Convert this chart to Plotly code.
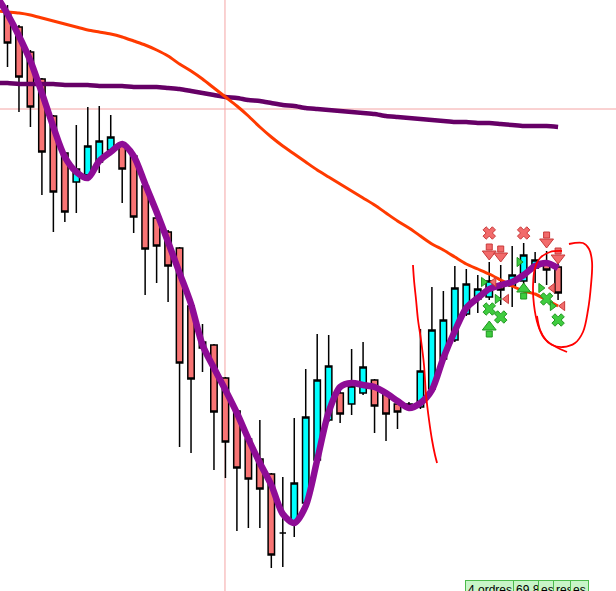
import plotly.graph_objects as go

# ---- data (price units; one candle per index) ------------------------------

candle_idx = list(range(-1, 49))
opens = [615, 588, 573, 548, 521, 484, 447, 418, 425, 438, 450, 457, 444, 414, 382, 368, 352, 294, 258, 255, 222,
         189, 161, 141, 126, 67, 77, 97, 140, 180, 207, 196, 207, 220, 207, 196, 193, 193, 211, 241, 260, 286,
         301, 303, 314, 314, 319, 332, 335, 333]
closes = [577, 557, 523, 493, 448, 408, 388, 431, 454, 459, 463, 431, 383, 351, 354, 334, 237, 221, 252, 188, 158,
          132, 121, 111, 45, 67, 117, 183, 220, 234, 186, 214, 233, 194, 186, 188, 196, 229, 270, 280, 312, 316,
          311, 319, 310, 325, 345, 340, 330, 307]
highs = [620, 595, 575, 550, 522, 485, 448, 475, 493, 494, 485, 458, 445, 415, 383, 370, 353, 295, 276, 256, 223,
         190, 162, 180, 127, 123, 182, 231, 266, 265, 212, 251, 258, 221, 208, 197, 198, 271, 313, 309, 334, 331,
         325, 338, 335, 354, 357, 348, 349, 338]
lows = [576, 533, 488, 473, 405, 368, 378, 387, 422, 427, 448, 397, 367, 305, 317, 298, 153, 147, 228, 130, 122,
        69, 72, 72, 32, 33, 63, 95, 138, 178, 177, 185, 205, 167, 159, 171, 191, 191, 209, 239, 258, 284, 287, 300,
        295, 293, 313, 317, 315, 300]

ma_fast = [605, 586, 564, 539, 507, 473, 443, 428, 422, 439, 448, 456, 444, 416, 388, 358, 327, 296, 255, 232,
           210, 187, 161, 137, 115, 86, 77, 94, 140, 188, 213, 217, 215, 213, 207, 199, 192, 197, 210, 242, 269,
           292, 302, 311, 315, 318, 325, 334, 337, 332]
ma_slow = [589, 588, 587, 585, 582, 579, 576, 573, 570, 568, 566, 563, 559, 555, 550, 544, 536, 529, 521, 512, 503,
           494, 484, 473, 463, 454, 446, 438, 430, 423, 416, 409, 402, 395, 387, 379, 372, 364, 356, 350, 343, 336,
           331, 326, 320, 314, 309, 306, 300, 294]
ma_long = [517, 517, 516, 516, 516, 516, 515, 515, 515, 514, 514, 514, 513, 513, 513, 512, 511, 509, 507, 505, 503,
           502, 500, 499, 497, 495, 494, 492, 491, 490, 489, 488, 487, 486, 484, 483, 482, 481, 480, 479, 478, 478,
           477, 477, 476, 475, 474, 474, 474, 473]

# trade signals (x = candle index, y = price)
sell_x_x, sell_x_y = [42, 45], [367, 367]
sell_arrow_x, sell_arrow_y = [42, 43, 47, 48], [349, 347, 361, 345]
sell_tri_x, sell_tri_y = [42.4, 43.5, 47.5, 48.4], [318, 301, 312, 294]
buy_tri_x, buy_tri_y = [41.5, 42.7, 44.6, 46.5, 47.5], [318, 301, 338, 312, 294]
buy_x_x, buy_x_y = [42, 43, 47, 48], [291, 283, 301, 280]
buy_arrow_x, buy_arrow_y = [42, 45], [270, 308]

# hand-drawn strokes
stroke1_x = [35.35, 35.44, 35.62, 35.79, 36.05, 36.31, 36.49, 36.75, 37.01, 37.27, 37.45]
stroke1_y = [335, 320, 300, 280, 260, 235, 205, 180, 160, 145, 137]
stroke2_x = [48.95, 50.17, 50.70, 50.96, 50.87, 50.61, 50.17, 49.48, 48.43, 47.47, 46.77, 46.25, 45.90, 45.82,
             45.99, 46.43, 47.30, 48.34]
stroke2_y = [356, 357, 351, 338, 315, 290, 268, 257, 253, 255, 262, 275, 295, 315, 332, 342, 348, 349]
stroke3_x = [46.16, 46.43, 46.95, 47.83, 48.78]
stroke3_y = [284, 270, 260, 253, 248]

cross_x, cross_y = 18.96, 491

tags = ["4 ordres", "69.8", "es", "res", "es"]
tag_left = [465, 513, 538, 553, 570]

W, H = 616, 591
X_RANGE = [-0.654, 53.05]
Y_RANGE = [9, 600]

RED = "#f26b6b"
RED_EDGE = "#c83a3a"
GREEN = "#3fcc3f"
GREEN_EDGE = "#1f961f"

fig = go.Figure()

fig.add_trace(go.Candlestick(
    x=candle_idx, open=opens, high=highs, low=lows, close=closes,
    increasing=dict(fillcolor="#00ffff", line=dict(color="black", width=1.5)),
    decreasing=dict(fillcolor="#f87474", line=dict(color="black", width=1.5)),
    hoverinfo="skip",
))

fig.add_trace(go.Scatter(x=candle_idx, y=ma_long, mode="lines",
                         line=dict(color="#660066", width=4.5, shape="spline", smoothing=0.6)))
fig.add_trace(go.Scatter(x=candle_idx, y=ma_slow, mode="lines",
                         line=dict(color="#ff3a00", width=3, shape="spline", smoothing=0.6)))
fig.add_trace(go.Scatter(x=candle_idx, y=ma_fast, mode="lines",
                         line=dict(color="#8e0c96", width=6.5, shape="spline", smoothing=0.8)))


def marks(x, y, symbol, size, fill, edge):
    fig.add_trace(go.Scatter(x=x, y=y, mode="markers",
                             marker=dict(symbol=symbol, size=size, color=fill,
                                         line=dict(color=edge, width=1))))


# block arrows = square shaft + triangle head
marks(sell_arrow_x, [v + 4 for v in sell_arrow_y], "square", 6, RED, RED_EDGE)
marks(sell_arrow_x, [v - 3 for v in sell_arrow_y], "triangle-down", 12, RED, RED_EDGE)
marks(buy_arrow_x, [v - 4 for v in buy_arrow_y], "square", 6, GREEN, GREEN_EDGE)
marks(buy_arrow_x, [v + 3 for v in buy_arrow_y], "triangle-up", 12, GREEN, GREEN_EDGE)
marks(sell_x_x, sell_x_y, "x", 11, RED, RED_EDGE)
marks(buy_x_x, buy_x_y, "x", 11, GREEN, GREEN_EDGE)
marks(sell_tri_x, sell_tri_y, "triangle-left", 8, RED, RED_EDGE)
marks(buy_tri_x, buy_tri_y, "triangle-right", 8, GREEN, GREEN_EDGE)

for sx, sy in [(stroke1_x, stroke1_y), (stroke2_x, stroke2_y), (stroke3_x, stroke3_y)]:
    fig.add_trace(go.Scatter(x=sx, y=sy, mode="lines",
                             line=dict(color="#ff0000", width=1.8, shape="spline", smoothing=1)))

# crosshair
fig.add_shape(type="line", x0=cross_x, x1=cross_x, y0=Y_RANGE[0], y1=Y_RANGE[1],
              line=dict(color="#f4a4a4", width=1), layer="below")
fig.add_shape(type="line", x0=X_RANGE[0], x1=X_RANGE[1], y0=cross_y, y1=cross_y,
              line=dict(color="#f4a4a4", width=1), layer="below")

# order tags at the bottom
for txt, left in zip(tags, tag_left):
    fig.add_annotation(
        text=txt, xref="paper", yref="paper", x=left / W, y=1 - 580 / H,
        xanchor="left", yanchor="top", showarrow=False,
        font=dict(family="Arial, Liberation Sans", size=12, color="black"),
        bgcolor="#c8f5c8", bordercolor="#4cbb4c", borderwidth=1, borderpad=2,
    )

fig.update_layout(
    width=W, height=H,
    margin=dict(l=0, r=0, t=0, b=0),
    paper_bgcolor="white", plot_bgcolor="white",
    showlegend=False,
    hovermode=False,
    boxgap=0.2,
    xaxis=dict(range=X_RANGE, showgrid=False, zeroline=False, showticklabels=False,
               rangeslider=dict(visible=False)),
    yaxis=dict(range=Y_RANGE, showgrid=False, zeroline=False, showticklabels=False),
)

# drop the browser's default body margin so the chart sits at the page corner
fig.write_html("out.html", config={"displayModeBar": False},
               post_script="document.body.style.margin='0';document.body.style.overflow='hidden';")
